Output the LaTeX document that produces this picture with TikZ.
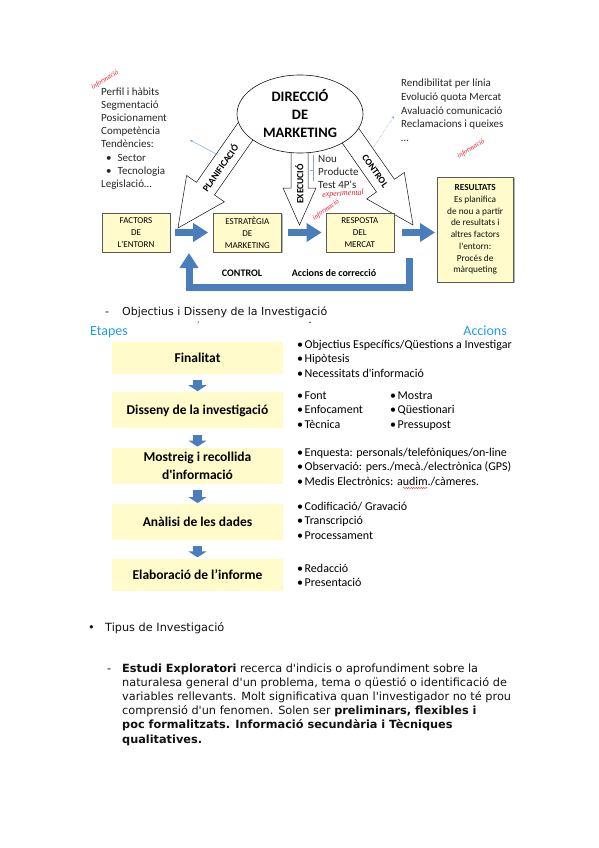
\documentclass[tikz,border=0pt]{standalone}
\usepackage{fontspec}
\setmainfont{DejaVu Sans}[Ligatures=TeXOff]
\newfontfamily\calfont{Carlito}
\newfontfamily\handfont{Liberation Serif}
\usetikzlibrary{arrows.meta,positioning,calc,shapes.geometric,shadows,backgrounds,decorations.pathmorphing}
\definecolor{cInk}{HTML}{111111}
\definecolor{cText}{HTML}{262626}
\definecolor{cYel}{HTML}{FFFBCB}
\definecolor{cBlue}{HTML}{4A7EBB}
\definecolor{cSky}{HTML}{1F9BEA}
\definecolor{cNote}{HTML}{E8141E}
\definecolor{cPale}{HTML}{7FA7D8}
\tikzset{
  fbox/.style={draw=gray!70!black, fill=cYel, minimum width=68pt, minimum height=39pt,
               align=center, inner sep=1pt, font=\calfont\fontsize{9}{12}\selectfont,
               drop shadow={shadow xshift=1.3pt, shadow yshift=-1.3pt, fill=gray, opacity=.6}},
  stage/.style={fill=cYel, minimum width=171pt, align=center, inner sep=0pt,
                font=\calfont\bfseries\fontsize{13.5}{17.5}\selectfont},
  fatarr/.style={draw=cBlue, line width=7pt, -{Triangle[length=15pt,width=18pt]}},
  stagearr/.style={draw=cBlue, line width=9pt, -{Triangle[length=6pt,width=18pt]}},
  hollow/.style={draw=cInk, fill=white, line width=0.5pt},
  hlbl/.style={font=\calfont\bfseries\fontsize{9.5}{10}\selectfont, inner sep=0pt},
  lbl/.style={font=\calfont\bfseries\fontsize{10}{12}\selectfont, inner sep=0pt},
  list/.style={anchor=base west, inner sep=0pt, text=cText, font=\calfont\fontsize{11}{13}\selectfont},
  acc/.style={anchor=base west, inner sep=0pt, font=\calfont\fontsize{12}{14}\selectfont},
  body/.style={anchor=base west, inner sep=0pt, text=cInk, font=\fontsize{11.3}{14}\selectfont},
  note/.style={text=cNote, inner sep=0pt, font=\handfont\itshape\fontsize{7}{7}\selectfont},
  pointer/.style={draw=cPale, line width=0.5pt, -{Stealth[length=3pt]}},
  spell/.style={draw=cNote, line width=0.4pt, decorate,
                decoration={snake, amplitude=0.6pt, segment length=2.5pt}},
}
% start, tip, shaft half width, head half width, head length
\newcommand{\hollowarrow}[5]{%
  \coordinate (hn) at ($(#2)!#5!(#1)$);
  \draw[hollow] ($(#1)!#3!90:(#2)$) -- ($(hn)!#3!-90:(#1)$) -- ($(hn)!#4!-90:(#1)$) -- (#2)
    -- ($(hn)!#4!90:(#1)$) -- ($(hn)!#3!90:(#1)$) -- ($(#1)!#3!-90:(#2)$) -- cycle;
}

\begin{document}
\begin{tikzpicture}[x=1pt, y=-1pt]
  \useasboundingbox (0,0) rectangle (599,848);
  % direction of marketing
  \node[ellipse, draw=cInk, fill=white, line width=0.6pt, minimum width=126pt, minimum height=78pt,
        inner sep=0pt, align=center, font=\calfont\bfseries\fontsize{14.4}{18}\selectfont]
        (dir) at (300,114) {DIRECCIÓ\\DE\\MARKETING};
  \coordinate (planS) at (252,122);
  \coordinate (planT) at (178,228);
  \coordinate (execS) at (299.5,140);
  \coordinate (execT) at (299.5,225);
  \coordinate (ctrlS) at (343,125);
  \coordinate (ctrlT) at (413,225);
  \begin{scope}[on background layer]
    \hollowarrow{planS}{planT}{11pt}{23pt}{48pt}
    \hollowarrow{execS}{execT}{8.5pt}{16.5pt}{37pt}
    \hollowarrow{ctrlS}{ctrlT}{11pt}{23pt}{48pt}
  \end{scope}
  \node[hlbl, rotate=55] (planL) at (220,168) {PLANIFICACIÓ};
  \node[hlbl, rotate=90] (execL) at (299.5,184) {EXECUCIÓ};
  \node[hlbl, rotate=-55] (ctrlL) at (375,171) {CONTROL};

  % boxes
  \node[fbox] (fac) at (136,232.5) {FACTORS\\DE\\L'ENTORN};
  \node[fbox, right=43pt of fac] (est) {ESTRATÈGIA\\DE\\MARKETING};
  \node[fbox, right=44pt of est] (rsp) {RESPOSTA\\DEL\\MERCAT};
  \node[fbox, right=43pt of rsp, yshift=3pt, minimum width=76pt, minimum height=105pt,
        font=\calfont\fontsize{9.3}{11.7}\selectfont, text=cInk]
        (rslt) {\textbf{RESULTATS}\\Es planifica\\de nou a partir\\de resultats i\\altres factors\\l'entorn:\\Procés de\\màrqueting};
  \draw[fatarr, shorten <=5pt, shorten >=5pt] (fac) -- (est);
  \draw[fatarr, shorten <=6pt, shorten >=4pt] (est) -- (rsp);
  \draw[fatarr, shorten <=8pt, shorten >=2pt] (rsp) -- (rslt.west |- rsp);
  % correction loop
  \coordinate (fbS) at (409,258);
  \coordinate (fbE) at (189,253);
  \draw[fatarr] (fbS) -- (409,287) -| (fbE);
  \node[lbl] (ctlL) at (242,273) {CONTROL};
  \node[lbl] (corrL) at (334,273) {Accions de correcció};

  % side lists
  \foreach \t [count=\i] in {Perfil i hàbits, Segmentació, Posicionament, Competència, Tendències:,
      \hspace*{5pt}•\hspace{6pt}Sector, \hspace*{5pt}•\hspace{6pt}Tecnologia, Legislació\ldots}
    \node[list] (prf\i) at (101,{95.5+13.1*(\i-1)}) {\t};
  \foreach \t [count=\i] in {Rendibilitat per línia, Evolució quota Mercat, Avaluació comunicació,
      Reclamacions i queixes, \ldots}
    \node[list] (rnd\i) at (401,{87+13.5*(\i-1)}) {\t};
  \foreach \t [count=\i] in {Nou, Producte, Test 4P's}
    \node[list] (nou\i) at (318,{162.5+13*(\i-1)}) {\t};
  \draw[cPale, line width=0.5pt] (313,155) -- (313,181) (313,170) -- (310,170);
  \coordinate (pa) at (218,155);
  \coordinate (pb) at (190,140);
  \draw[pointer] (pa) -- (pb);
  \coordinate (pc) at (373,148);
  \coordinate (pd) at (394,116);
  \draw[pointer, densely dotted] (pc) -- (pd);
  % handwritten notes
  \node[note, rotate=32] (n1) at (105,80) {informació};
  \node[note, rotate=32] (n2) at (471,149) {informació};
  \node[note, rotate=3, font=\handfont\itshape\fontsize{8}{8}\selectfont] (n3) at (343,194) {experimental};
  \node[note, rotate=35] (n4) at (326,210) {informació};

  % objectives and design
  \node[body, font=\fontsize{11}{14}\selectfont] (dsh1) at (105,315) {-};
  \node[body, font=\fontsize{11}{14}\selectfont] (obj) at (122,315) {Objectius i Disseny de la Investigació};
  \node[inner sep=0pt, font=\fontsize{8}{8}\selectfont] (cut1) at (198,325) {´};
  \node[inner sep=0pt, font=\fontsize{8}{8}\selectfont] (cut2) at (310,325) {˘};
  \node[anchor=base west, inner sep=0pt, text=cSky, font=\calfont\fontsize{14}{16}\selectfont] (etp) at (90,335.5) {Etapes};
  \node[anchor=base east, inner sep=0pt, text=cSky, font=\calfont\fontsize{14}{16}\selectfont] (acs) at (507,335.5) {Accions};
  \node[stage, minimum height=32pt] (fin) at (197.5,358) {Finalitat};
  \node[stage, minimum height=36pt, below=18pt of fin] (dis) {Disseny de la investigació};
  \node[stage, minimum height=36pt, below=19pt of dis] (mos) {Mostreig i recollida\\d'informació};
  \node[stage, minimum height=36pt, below=20pt of mos] (ana) {Anàlisi de les dades};
  \node[stage, minimum height=32pt, below=18pt of ana] (ela) {Elaboració de l’informe};
  \foreach \a/\b in {fin/dis, dis/mos, mos/ana, ana/ela}
    \draw[stagearr, shorten <=6pt, shorten >=1pt] (\a) -- (\b);

  \foreach \t [count=\i] in {Objectius Específics/Qüestions a Investigar, Hipòtesis, Necessitats d'informació}
    \node[acc] (ga\i) at (297,{348+14.5*(\i-1)}) {•\hspace{1.5pt}\t};
  \foreach \t [count=\i] in {Font, Enfocament, Tècnica}
    \node[acc] (gb\i) at (297,{399+14.5*(\i-1)}) {•\hspace{1.5pt}\t};
  \foreach \t [count=\i] in {Mostra, Qüestionari, Pressupost}
    \node[acc] (gc\i) at (390,{399+14.5*(\i-1)}) {•\hspace{1.5pt}\t};
  \foreach \t [count=\i] in {Enquesta: personals/telefòniques/on-line, Observació: pers./mecà./electrònica (GPS),
      Medis Electrònics: audim./càmeres.}
    \node[acc] (gd\i) at (297,{456+14.5*(\i-1)}) {•\hspace{1.5pt}\t};
  \draw[spell] (403,488) -- (428,488);
  \foreach \t [count=\i] in {Codificació/ Gravació, Transcripció, Processament}
    \node[acc] (ge\i) at (297,{510+14.5*(\i-1)}) {•\hspace{1.5pt}\t};
  \foreach \t [count=\i] in {Redacció, Presentació}
    \node[acc] (gf\i) at (297,{572+14.5*(\i-1)}) {•\hspace{1.5pt}\t};

  % types of research
  \node[body] (bul2) at (88,631.5) {•};
  \node[body] (tip) at (105,631.5) {Tipus de Investigació};
  \node[body] (dsh2) at (107,672.5) {-};
  \node[body] (p1) at (122,672.5) {\textbf{Estudi Exploratori} recerca d'indicis o aprofundiment sobre la};
  \node[body] (p2) at (122,686.6) {naturalesa general d'un problema, tema o qüestió o identificació de};
  \node[body] (p3) at (122,700.7) {variables rellevants. Molt significativa quan l'investigador no té prou};
  \node[body] (p4) at (122,714.8) {comprensió d'un fenomen. Solen ser \textbf{preliminars, flexibles i}};
  \node[body] (p5) at (122,728.9) {\textbf{poc formalitzats. Informació secundària i Tècniques}};
  \node[body] (p6) at (122,743) {\textbf{qualitatives.}};
\end{tikzpicture}
\end{document}
